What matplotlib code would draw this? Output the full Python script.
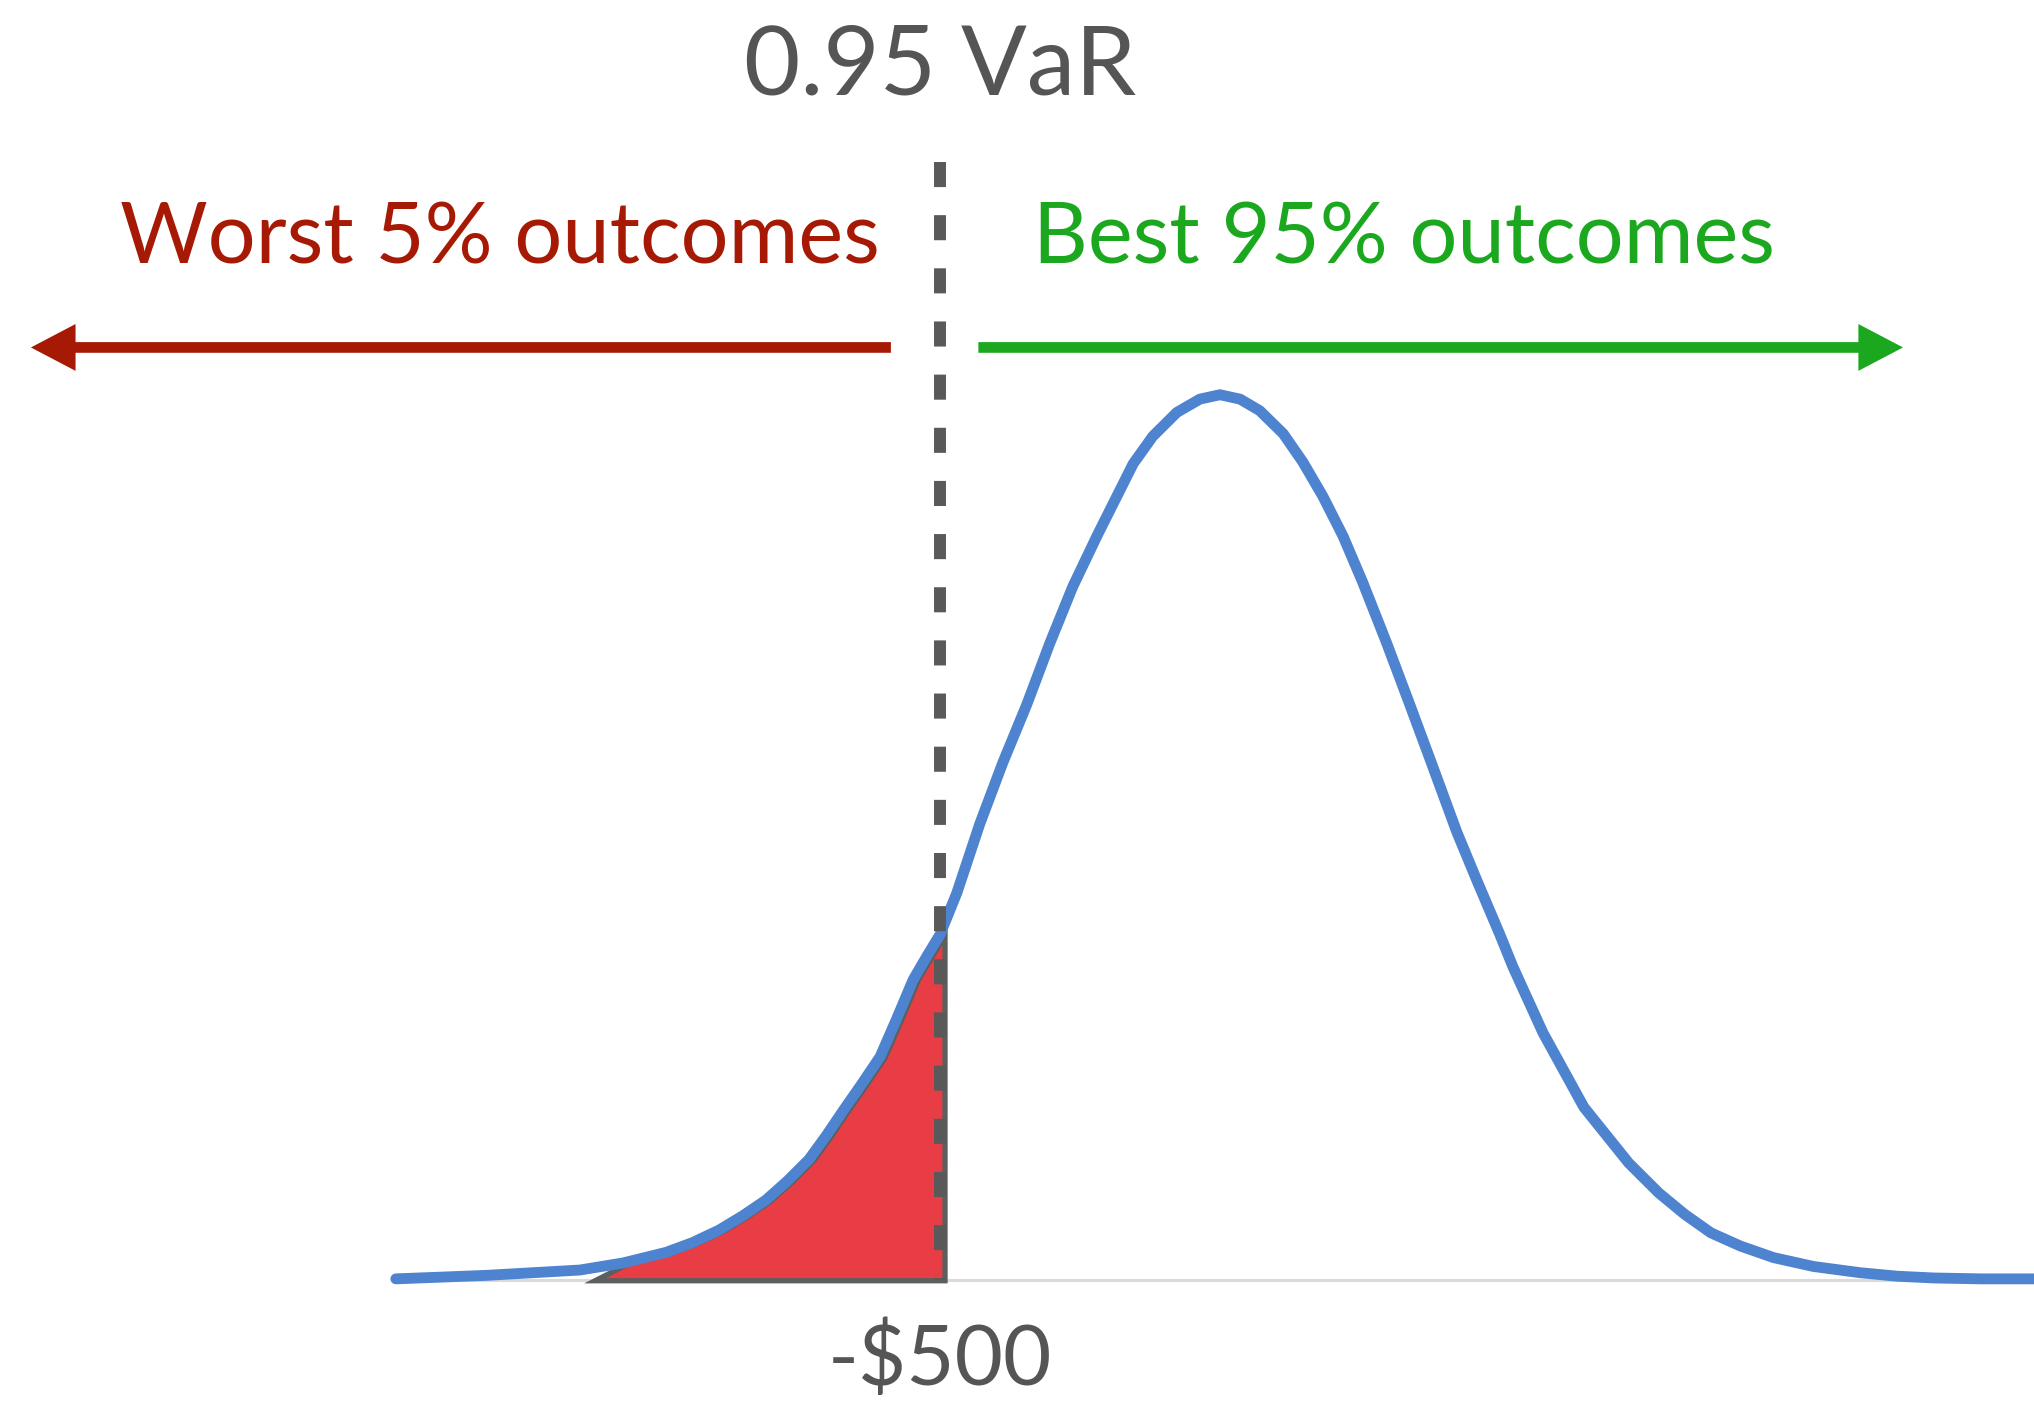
"""
0.95 VaR illustration: P&L density with the worst 5% tail shaded in red.
"""
import matplotlib

matplotlib.use("Agg")
import matplotlib.pyplot as plt
import matplotlib.transforms as mtransforms
import numpy as np

# P&L (USD) and relative density
PNL_USD = [
    -1472, -1390, -1309, -1226, -1143, -1066, -989, -942, -895, -853,
    -811, -772, -734, -703, -672, -640, -607, -578, -548, -524,
    -500, -470, -429, -388, -345, -304, -263, -220, -155, -120,
    -77, -36, 0, 36, 71, 113, 148, 184, 220, 255,
    298, 339, 380, 423, 459, 500, 523, 577, 650, 730,
    784, 830, 877, 930, 989, 1060, 1143, 1210, 1275, 1360, 1454,
]
DENSITY = [
    0.001, 0.003, 0.005, 0.008, 0.011, 0.019, 0.031, 0.042, 0.056, 0.072,
    0.090, 0.112, 0.136, 0.163, 0.192, 0.221, 0.252, 0.294, 0.339, 0.365,
    0.390, 0.437, 0.515, 0.584, 0.650, 0.719, 0.783, 0.840, 0.922, 0.953,
    0.980, 0.995, 1.000, 0.995, 0.982, 0.956, 0.924, 0.885, 0.840, 0.788,
    0.719, 0.650, 0.580, 0.506, 0.451, 0.390, 0.354, 0.279, 0.195, 0.132,
    0.098, 0.074, 0.053, 0.038, 0.025, 0.015, 0.008, 0.004, 0.002, 0.001, 0.001,
]
VAR_USD = -500
TAIL_START_USD = -1125
VAR_LABEL = "-$500"
TITLE = "0.95 VaR"
WORST_LABEL = "Worst 5% outcomes"
BEST_LABEL = "Best 95% outcomes"

CURVE_BLUE = "#4E83CF"
TAIL_RED = "#E83D45"
TAIL_EDGE = "#5B5F5F"
VAR_GREY = "#595959"
TEXT_GREY = "#555555"
WORST_RED = "#A61A05"
BEST_GREEN = "#1BA81F"
BASE_GREY = "#DADADA"

FONT = ["Lato", "DejaVu Sans"]


def main() -> None:
    fig = plt.figure(figsize=(20.34, 14.01), dpi=100, facecolor="white")
    ax = fig.add_axes([0, 0, 1, 1])
    ax.set_xlim(-2179, 1454)
    ax.set_ylim(-0.137, 1.446)
    ax.axis("off")

    x = np.asarray(PNL_USD, dtype=float)
    y = np.asarray(DENSITY, dtype=float)

    # baseline
    ax.plot([x[0], ax.get_xlim()[1]], [0, 0], color=BASE_GREY, lw=2.2, zorder=1,
            solid_capstyle="butt")

    # shaded tail (slightly offset, as in the original drawing)
    mask = (x > TAIL_START_USD) & (x <= VAR_USD)
    tail_x = np.concatenate([[TAIL_START_USD], x[mask], [VAR_USD]])
    tail_y = np.concatenate([[0.0], y[mask], [0.0]])
    shift = mtransforms.offset_copy(ax.transData, fig=fig, x=5, y=-1, units="dots")
    ax.fill(tail_x, tail_y, facecolor=TAIL_RED, edgecolor=TAIL_EDGE, lw=3.8,
            joinstyle="miter", transform=shift, zorder=2)

    # density curve
    ax.plot(x, y, color=CURVE_BLUE, lw=7.8, zorder=3, solid_joinstyle="round",
            solid_capstyle="round")

    # VaR line
    ax.plot([VAR_USD, VAR_USD], [1.263, 0.0], color=VAR_GREY, lw=8.6,
            linestyle=(0, (2.1, 2.35)), dash_capstyle="butt", zorder=4)

    ax.text(0.462, 0.952, TITLE, transform=ax.transAxes, ha="center", va="center",
            fontsize=70, color=TEXT_GREY, family=FONT)
    ax.annotate(VAR_LABEL, xy=(VAR_USD, 0.029), xycoords=("data", "axes fraction"),
                ha="center", va="center", fontsize=60, color=TEXT_GREY,
                family=FONT, fontweight="normal")

    ax.text(0.246, 0.812, WORST_LABEL, transform=ax.transAxes, ha="center",
            va="baseline", fontsize=61, color=WORST_RED, family=FONT)
    ax.text(0.690, 0.812, BEST_LABEL, transform=ax.transAxes, ha="center",
            va="baseline", fontsize=61, color=BEST_GREEN, family=FONT)

    arrow = "-|>,head_length=20,head_width=10.5"
    common = dict(arrowstyle=arrow, lw=7.7, mutation_scale=1, shrinkA=0,
                  shrinkB=0, joinstyle="miter", capstyle="butt")
    ax.annotate("", xy=(0.0152, 0.752), xytext=(0.438, 0.752),
                xycoords="axes fraction",
                arrowprops=dict(color=WORST_RED, **common))
    ax.annotate("", xy=(0.9356, 0.752), xytext=(0.481, 0.752),
                xycoords="axes fraction",
                arrowprops=dict(color=BEST_GREEN, **common))

    fig.savefig("out.png", dpi=100, facecolor="white")
    plt.close(fig)


if __name__ == "__main__":
    main()
